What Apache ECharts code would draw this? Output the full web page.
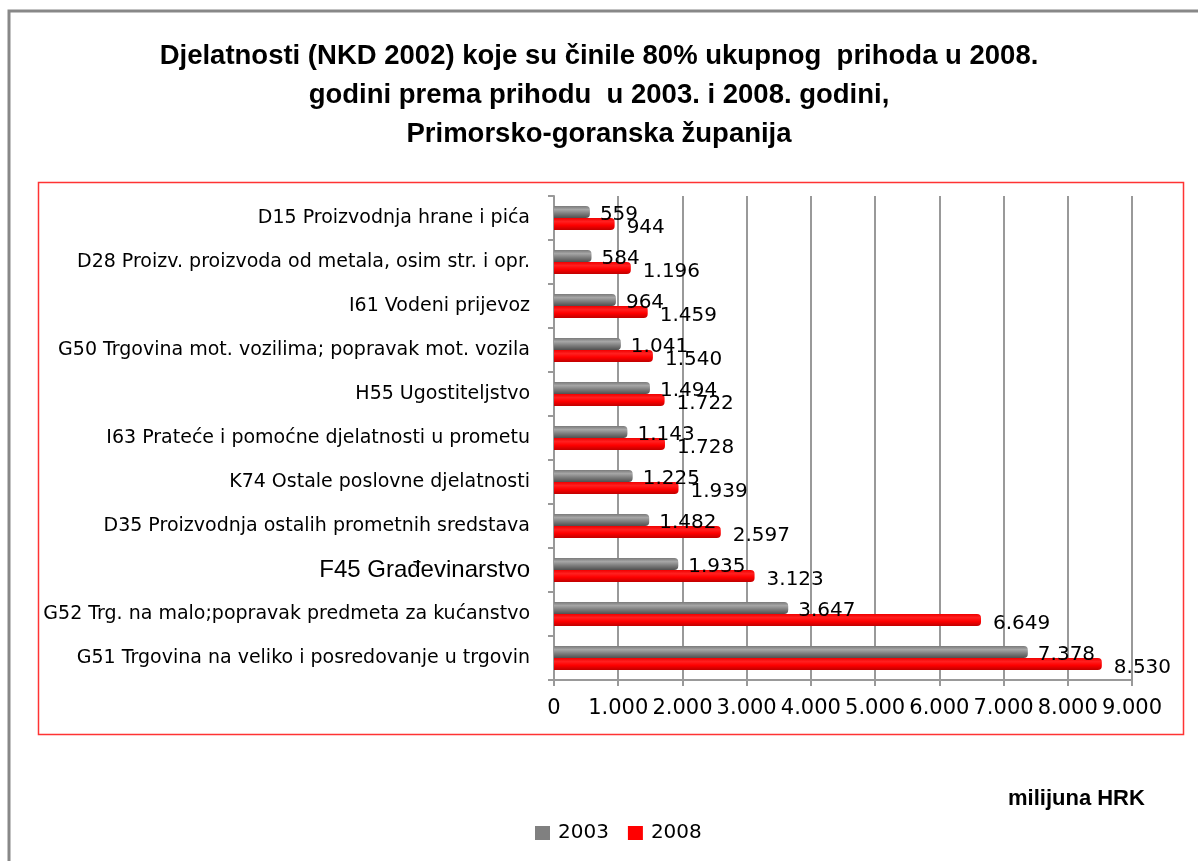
<!DOCTYPE html>
<html style="height: 100%">
<head>
<meta charset="utf-8">
<script src="https://cdn.jsdelivr.net/npm/echarts@6/dist/echarts.min.js"></script>
</head>
<body style="height: 100%; margin: 0; background: #fff">
<div id="container" style="width: 1198px; height: 861px"></div>
<script type="text/javascript">
// categories listed top to bottom, as in the picture
var categories = [
    'D15 Proizvodnja hrane i pića',
    'D28 Proizv. proizvoda od metala, osim str. i opr.',
    'I61 Vodeni prijevoz',
    'G50 Trgovina mot. vozilima; popravak mot. vozila',
    'H55 Ugostiteljstvo',
    'I63 Prateće i pomoćne djelatnosti u prometu',
    'K74 Ostale poslovne djelatnosti',
    'D35 Proizvodnja ostalih prometnih sredstava',
    'F45 Građevinarstvo',
    'G52 Trg. na malo;popravak predmeta za kućanstvo',
    'G51 Trgovina na veliko i posredovanje u trgovin'
];
var values2003 = [559, 584, 964, 1041, 1494, 1143, 1225, 1482, 1935, 3647, 7378];
var values2008 = [944, 1196, 1459, 1540, 1722, 1728, 1939, 2597, 3123, 6649, 8530];
var seriesNames = ['2003', '2008'];

var textFont = '"DejaVu Sans", sans-serif';
var titleFont = '"Liberation Sans", Arial, sans-serif';

function fmt(v) {
    v = Math.round(v);
    var s = String(v);
    if (s.length > 3) s = s.slice(0, s.length - 3) + '.' + s.slice(s.length - 3);
    return s;
}

var dom = document.getElementById('container');
var myChart = echarts.init(dom);

var option = {
    animation: false,
    title: {
        text: 'Djelatnosti (NKD 2002) koje su činile 80% ukupnog  prihoda u 2008.\ngodini prema prihodu  u 2003. i 2008. godini,\nPrimorsko-goranska županija',
        left: 'center',
        top: 32,
        textStyle: {
            fontFamily: titleFont,
            fontSize: 27.5,
            fontWeight: 'bold',
            color: '#000',
            lineHeight: 39
        }
    },
    legend: {
        data: [
            {name: seriesNames[0], itemStyle: {color: '#808080'}},
            {name: seriesNames[1], itemStyle: {color: '#ff0000'}}
        ],
        left: 530,
        top: 818,
        itemWidth: 15,
        itemHeight: 14,
        itemGap: 19,
        icon: 'rect',
        textStyle: {fontFamily: textFont, fontSize: 20, color: '#000', padding: [0, 0, 0, 3]}
    },
    grid: {
        left: 554,
        right: 66,
        top: 196,
        bottom: 181
    },
    xAxis: {
        type: 'value',
        min: 0,
        max: 9000,
        interval: 1000,
        axisLine: {show: true, lineStyle: {color: '#999', width: 2}},
        axisTick: {show: true, length: 6, lineStyle: {color: '#999', width: 2}},
        splitLine: {show: true, lineStyle: {color: '#999', width: 2}},
        axisLabel: {
            margin: 18,
            fontFamily: textFont,
            fontSize: 21,
            color: '#000',
            formatter: fmt
        }
    },
    yAxis: {
        type: 'category',
        data: categories,
        inverse: true,
        axisLine: {show: true, lineStyle: {color: '#999', width: 2}},
        axisTick: {show: true, length: 6, lineStyle: {color: '#999', width: 2}},
        axisLabel: {
            margin: 24,
            fontFamily: textFont,
            fontSize: 19,
            color: '#000',
            formatter: function (v) {
                if (v.indexOf('F45') === 0) return '{f|' + v + '}';
                return v;
            },
            rich: {
                f: {fontFamily: titleFont, fontSize: 24, color: '#000'}
            }
        }
    },
    series: [
        {
            name: seriesNames[0],
            type: 'bar',
            data: values2003,
            barWidth: 12,
            barGap: '0%',
            itemStyle: {
                borderRadius: [0, 4, 4, 0],
                color: new echarts.graphic.LinearGradient(0, 0, 0, 1, [
                    {offset: 0, color: '#7a7a7a'},
                    {offset: 0.3, color: '#a6a6a6'},
                    {offset: 0.6, color: '#808080'},
                    {offset: 1, color: '#505050'}
                ])
            },
            label: {
                show: true,
                position: 'right',
                distance: 10,
                offset: [0, 3],
                fontFamily: textFont,
                fontSize: 20,
                color: '#000',
                formatter: function (p) { return fmt(p.value); }
            }
        },
        {
            name: seriesNames[1],
            type: 'bar',
            data: values2008,
            barWidth: 12,
            itemStyle: {
                borderRadius: [0, 4, 4, 0],
                color: new echarts.graphic.LinearGradient(0, 0, 0, 1, [
                    {offset: 0, color: '#f00000'},
                    {offset: 0.3, color: '#ff2020'},
                    {offset: 0.6, color: '#ff0000'},
                    {offset: 1, color: '#c00000'}
                ])
            },
            label: {
                show: true,
                position: 'right',
                distance: 12,
                offset: [0, 4],
                fontFamily: textFont,
                fontSize: 20,
                color: '#000',
                formatter: function (p) { return fmt(p.value); }
            }
        }
    ],
    graphic: [
        {
            type: 'rect',
            silent: true,
            z: -10,
            shape: {x: 9, y: 11, width: 1220, height: 900},
            style: {fill: 'none', stroke: '#888', lineWidth: 3}
        },
        {
            type: 'rect',
            silent: true,
            z: -10,
            shape: {x: 38.5, y: 182.5, width: 1145, height: 552},
            style: {fill: 'none', stroke: '#ff3333', lineWidth: 1.5}
        },
        {
            type: 'text',
            left: 1008,
            top: 788,
            style: {
                text: 'milijuna HRK',
                fontFamily: titleFont,
                fontSize: 22,
                fontWeight: 'bold',
                fill: '#000'
            }
        }
    ]
};

myChart.setOption(option);
</script>
</body>
</html>
